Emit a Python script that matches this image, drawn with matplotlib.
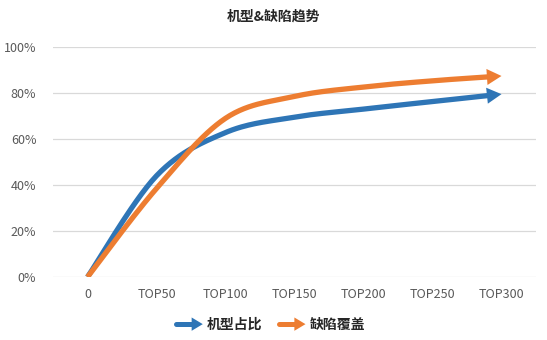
import numpy as np
import matplotlib
matplotlib.use("Agg")
import matplotlib.pyplot as plt
from matplotlib.lines import Line2D
from matplotlib.patches import FancyArrowPatch
from matplotlib.legend_handler import HandlerBase

plt.rcParams['font.family'] = ['Noto Sans CJK SC', 'DejaVu Sans']

categories = ["0", "TOP50", "TOP100", "TOP150", "TOP200", "TOP250", "TOP300"]
series_names = ["机型占比", "缺陷覆盖"]
model_share = [0.0, 0.44, 0.628, 0.695, 0.73, 0.763, 0.795]
defect_cover = [0.0, 0.385, 0.69, 0.785, 0.826, 0.853, 0.874]
colors = ["#2E75B6", "#ED7D31"]
yticks = [0, 0.2, 0.4, 0.6, 0.8, 1.0]
ytick_labels = ["0%", "20%", "40%", "60%", "80%", "100%"]

W, H = 547, 340
fig = plt.figure(figsize=(W / 100, H / 100), dpi=100)
ax = fig.add_axes([53 / W, 1 - 277 / H, (536 - 53) / W, (277 - 47) / H])
ax.set_xlim(-0.5, len(categories) - 0.5)
ax.set_ylim(0, 1)

XS, YS = 69.0, 230.0  # pixel scale per unit


def smooth(xs, ys, n=30):
    px = np.asarray(xs, float) * XS
    py = np.asarray(ys, float) * YS
    P = np.column_stack([px, py])
    P = np.vstack([P[0], P, P[-1]])
    out = []
    for i in range(1, len(P) - 2):
        p0, p1, p2, p3 = P[i - 1], P[i], P[i + 1], P[i + 2]
        c1 = p1 + (p2 - p0) / 6.0
        c2 = p2 - (p3 - p1) / 6.0
        t = np.linspace(0, 1, n, endpoint=(i == len(P) - 3))[:, None]
        b = (1 - t) ** 3 * p1 + 3 * (1 - t) ** 2 * t * c1 + 3 * (1 - t) * t ** 2 * c2 + t ** 3 * p2
        out.append(b)
    out = np.vstack(out)
    return out[:, 0] / XS, out[:, 1] / YS


x = np.arange(len(categories))
lw = 3.8
for vals, c in zip([model_share, defect_cover], colors):
    sx, sy = smooth(x, vals)
    tip = np.array([sx[-1] * XS, sy[-1] * YS])
    d = np.hypot(sx * XS - tip[0], sy * YS - tip[1])
    keep = d > 9
    ax.plot(sx[keep], sy[keep], color=c, lw=lw, solid_capstyle='butt', zorder=3)
    j = np.where(keep)[0][-1]
    arr = FancyArrowPatch((sx[j], sy[j]), (sx[-1], sy[-1]),
                          arrowstyle='-|>,head_length=1.0,head_width=0.55',
                          mutation_scale=10.5, color=c, lw=0,
                          shrinkA=0, shrinkB=0, zorder=4)
    ax.add_patch(arr)

ax.set_xticks(x)
ax.set_xticklabels(categories)
ax.set_yticks(yticks)
ax.set_yticklabels(ytick_labels)
ax.tick_params(length=0, labelsize=9, colors="#595959", pad=8)
ax.tick_params(axis='y', pad=12)
ax.grid(axis='y', color="#D9D9D9", lw=0.9)
ax.set_axisbelow(True)
for s in ax.spines.values():
    s.set_visible(False)

fig.text(0.5, 1 - 17 / H, "机型&缺陷趋势", ha='center', va='center',
         fontsize=10, fontweight='bold', color="#262626")


class ArrowHandler(HandlerBase):
    def create_artists(self, legend, orig_handle, xdescent, ydescent,
                       width, height, fontsize, trans):
        c = orig_handle.get_color()
        y = height / 2 - ydescent
        x0 = -xdescent
        x1 = width - xdescent
        ln = Line2D([x0, x1 - 7], [y, y], color=c, lw=3.6, solid_capstyle='round')
        ln.set_transform(trans)
        a = FancyArrowPatch((x1 - 8, y), (x1, y),
                            arrowstyle='-|>,head_length=1.0,head_width=0.6',
                            mutation_scale=8, color=c, lw=0, shrinkA=0, shrinkB=0)
        a.set_transform(trans)
        return [ln, a]


handles = [Line2D([], [], color=c) for c in colors]
leg = fig.legend(handles, series_names, loc='center', bbox_to_anchor=(0.495, 1 - 325 / H),
                 ncol=2, frameon=False, handler_map={Line2D: ArrowHandler()},
                 handlelength=1.9, handletextpad=0.3, columnspacing=1.2,
                 prop={'size': 10, 'weight': 'bold'})
for t in leg.get_texts():
    t.set_color("#262626")

fig.savefig("out.png", dpi=100, facecolor="white")
